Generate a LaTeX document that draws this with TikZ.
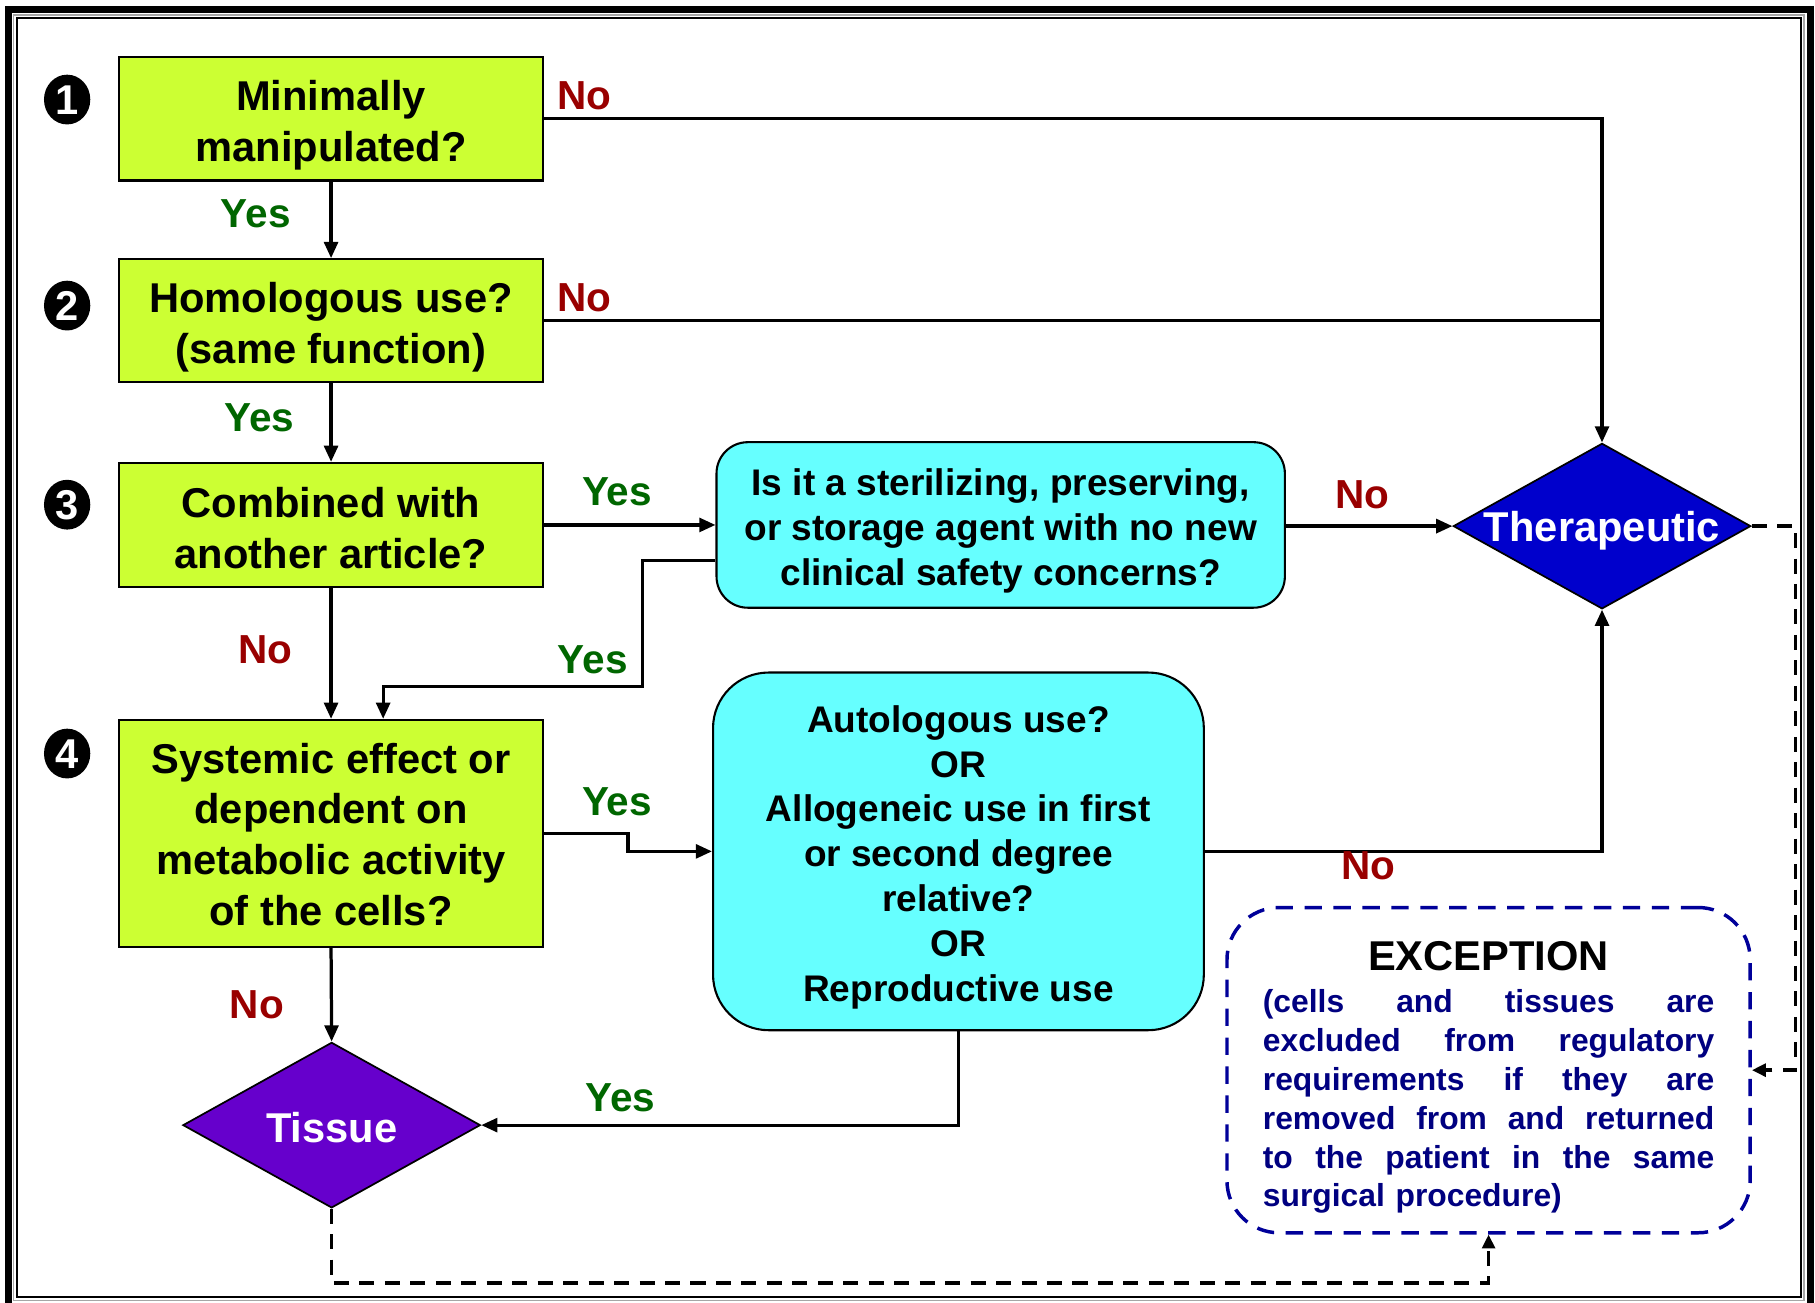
\documentclass[tikz,border=0pt]{standalone}
\usepackage{fontspec}
\setmainfont{Liberation Sans}
\usetikzlibrary{shapes.geometric,arrows.meta,calc}
\definecolor{qlime}{HTML}{CCFF33}
\definecolor{qcyan}{HTML}{66FFFF}
\definecolor{qblue}{HTML}{0000CC}
\definecolor{qpurple}{HTML}{6600CC}
\definecolor{qred}{HTML}{990000}
\definecolor{qgreen}{HTML}{006600}
\definecolor{qnavy}{HTML}{000099}
\definecolor{qnavytext}{HTML}{000080}
\newcommand{\jline}[1]{\leavevmode\hbox to 390pt{#1}}
\begin{document}
\begin{tikzpicture}[x=1pt,y=-1pt,
  qbox/.style={draw, line width=2pt, fill=qlime, minimum width=366pt, align=center, inner sep=0pt, font=\bfseries\fontsize{36}{44}\selectfont},
  cbox/.style={draw, line width=1.8pt, fill=qcyan, align=center, inner sep=0pt, font=\bfseries\fontsize{32}{39}\selectfont},
  dia/.style={diamond, draw, line width=1.5pt, minimum width=257pt, minimum height=143pt, inner sep=0pt, text=white, font=\bfseries\fontsize{36}{40}\selectfont},
  conn/.style={line width=2.8pt},
  arr/.style={conn, -{Triangle[length=14pt,width=12pt]}},
  darr/.style={line width=3pt, dash pattern=on 13pt off 9pt, -{Triangle[length=12pt,width=11pt]}},
  yeslbl/.style={text=qgreen, inner sep=0pt, font=\bfseries\fontsize{35}{40}\selectfont},
  nolbl/.style={text=qred, inner sep=0pt, font=\bfseries\fontsize{35}{40}\selectfont},
  num/.style={ellipse, fill=black, minimum width=40pt, minimum height=43pt, inner sep=0pt, text=white, font=\bfseries\fontsize{36}{38}\selectfont},
  excbox/.style={draw=qnavy, line width=3pt, dash pattern=on 15pt off 10pt, rounded corners=45pt, minimum width=452pt, minimum height=281pt, inner sep=0pt, text width=390pt, align=center, text=qnavytext, font=\bfseries\fontsize{27.5}{33.5}\selectfont}
]
\useasboundingbox (0,0) rectangle (1568,1125);
\clip (0,0) rectangle (1568,1125);
% frame
\draw[line width=6pt] (7.3,8.2) rectangle (1563.7,1129);
\draw[black!35, line width=1pt] (12,13) rectangle (1558.5,1123.6);
\draw[line width=1.6pt] (14.5,15.5) rectangle (1556,1120.5);

% numbers
\node[num] (n1) at (58,86) {\raisebox{-12.9pt}[0pt][0pt]{1}};
\node[num] (n2) at (58,264) {\raisebox{-12.9pt}[0pt][0pt]{2}};
\node[num] (n3) at (58,436) {\raisebox{-12.9pt}[0pt][0pt]{3}};
\node[num] (n4) at (58,651) {\raisebox{-12.9pt}[0pt][0pt]{4}};

% boxes
\node[qbox, minimum height=107pt] (b1) at (286,102.5) {\rule{0pt}{37pt}Minimally\\manipulated?};
\node[qbox, minimum height=106pt] (b2) at (286,277) {\rule{0pt}{37pt}Homologous use?\\(same function)};
\node[qbox, minimum height=107pt] (b3) at (286,453.5) {\rule{0pt}{31pt}Combined with\\another article?};
\node[qbox, minimum height=196pt] (b4) at (286,720) {\rule{0pt}{28pt}Systemic effect or\\dependent on\\metabolic activity\\of the cells?};
\node[cbox, rounded corners=27pt, minimum width=491pt, minimum height=143pt] (ba) at (864.5,453.5) {\rule{0pt}{33pt}Is it a sterilizing, preserving,\\or storage agent with no new\\clinical safety concerns?};
\node[cbox, rounded corners=48pt, minimum width=424pt, minimum height=309pt, font=\bfseries\fontsize{32}{38.7}\selectfont] (bb) at (828,735.5) {\rule{0pt}{33pt}Autologous use?\\OR\\Allogeneic use in first\\or second degree\\relative?\\OR\\Reproductive use};
\node[dia, fill=qblue] (ther) at (1384,454.5) {\raisebox{-12.9pt}[0pt][0pt]{\makebox[0pt]{Therapeutic}}};
\node[dia, fill=qpurple] (tis) at (286.5,972) {\raisebox{-14.9pt}[0pt][0pt]{\makebox[0pt]{Tissue}}};
\node[excbox] (exc) at (1286,924.5) {{\color{black}\fontsize{36}{40}\selectfont\rule{0pt}{38pt}EXCEPTION}\\[3pt]
\jline{(cells\hfill and\hfill tissues\hfill are}\\
\jline{excluded\hfill from\hfill regulatory}\\
\jline{requirements\hfill if\hfill they\hfill are}\\
\jline{removed\hfill from\hfill and\hfill returned}\\
\jline{to\hfill the\hfill patient\hfill in\hfill the\hfill same}\\
\jline{surgical procedure)\hfill}};

% connectors
\coordinate (jA) at (555,593);
\draw[arr] (b1.east) -| (ther.north);
\draw[conn] (b2.east) -- (b2.east -| ther.north);
\draw[arr] (b1.south) -- (b2.north);
\draw[arr] (b2.south) -- (b3.north);
\draw[arr] (b3.east) -- (b3.east -| ba.west);
\draw[arr] ([yshift=-31pt]ba.west) -| (jA) -| ([xshift=45pt]b4.north);
\draw[arr] (b3.south) -- (b4.north);
\draw[arr] (ba.east |- ther.west) -- (ther.west);
\draw[arr] (b4.east) -| ($(b4.east)!0.5!(bb.west)$) |- (bb.west);
\draw[arr] (bb.east) -| (ther.south);
\draw[arr] (b4.south) -- (tis.north);
\draw[arr] (bb.south) |- (tis.east);
\draw[darr] (tis.south) -- ++(0,64) -| (exc.south);
\draw[darr] (ther.east) -- ++(38,0) |- (exc.east);

% labels
\node[nolbl] (l1) at (505,83) {No};
\node[nolbl] (l2) at (505,257) {No};
\node[yeslbl] (l3) at (221,185) {Yes};
\node[yeslbl] (l4) at (224,361) {Yes};
\node[yeslbl] (l5) at (533,425) {Yes};
\node[nolbl] (l6) at (1177,427) {No};
\node[yeslbl] (l7) at (512,570) {Yes};
\node[nolbl] (l8) at (229,561) {No};
\node[yeslbl] (l9) at (533,693) {Yes};
\node[nolbl] (l10) at (1182,748) {No};
\node[nolbl] (l11) at (222,868) {No};
\node[yeslbl] (l12) at (536,948) {Yes};
\end{tikzpicture}
\end{document}
